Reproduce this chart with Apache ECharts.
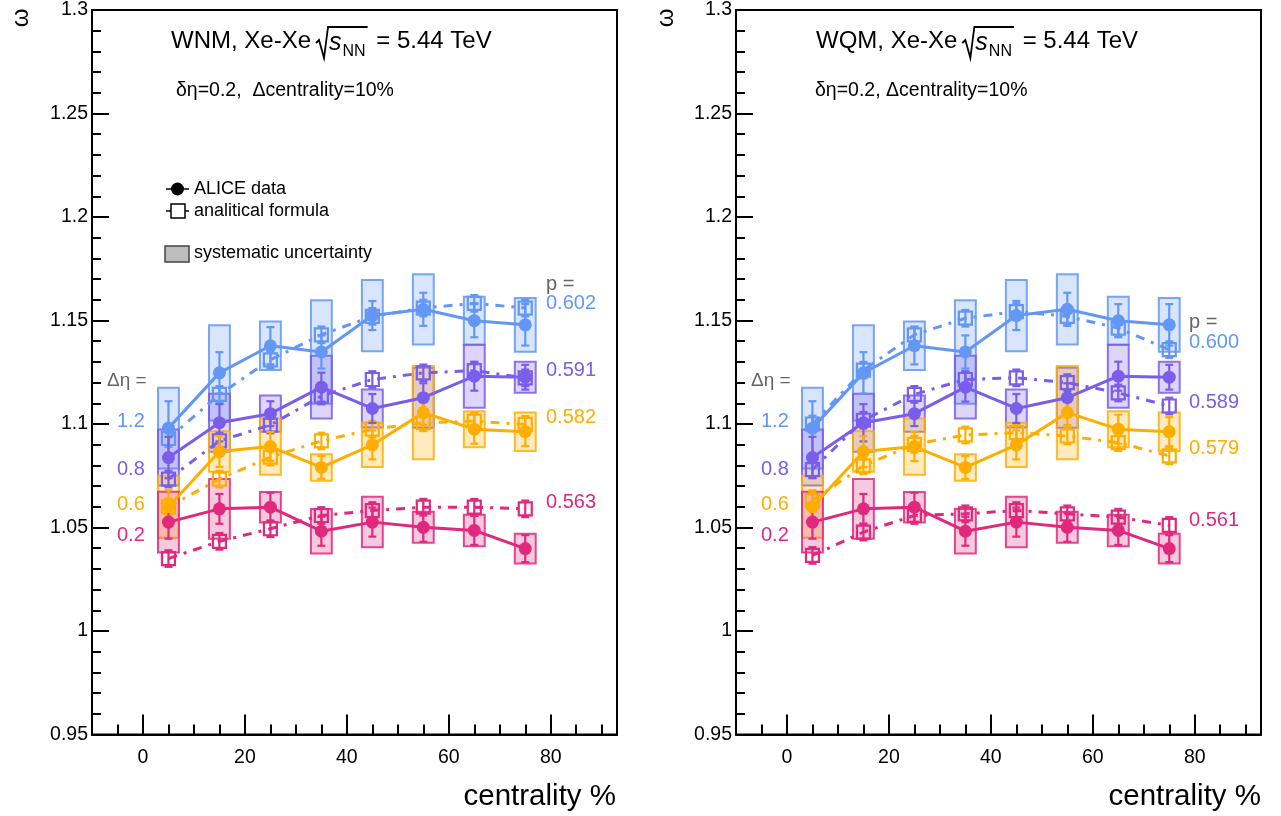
<!DOCTYPE html>
<html><head><meta charset="utf-8">
<script src="https://cdn.jsdelivr.net/npm/echarts@6/dist/echarts.min.js"></script>
<style>html,body{margin:0;padding:0;background:#fff}#c{width:1281px;height:816px}</style>
</head><body><div id="c"></div><script>
// ---------------- data ----------------
const centrality = [5, 15, 25, 35, 45, 55, 65, 75];
const xMajorTicks = [0, 20, 40, 60, 80];
const xMinorTicks = [-5, 5, 10, 15, 25, 30, 35, 45, 50, 55, 65, 70, 75, 85, 90];
const etaLabels = ['1.2', '0.8', '0.6', '0.2'];
const pWNM = ['0.602', '0.591', '0.582', '0.563'];
const pWQM = ['0.600', '0.589', '0.579', '0.561'];

// ALICE data (Δη = 1.2, 0.8, 0.6, 0.2)
const alice12 = [1.098, 1.1247, 1.1378, 1.1348, 1.1524, 1.1554, 1.1499, 1.1479];
const alice12Stat = [0.013, 0.010, 0.009, 0.008, 0.007, 0.008, 0.008, 0.010];
const alice12Sys = [0.0195, 0.023, 0.0117, 0.025, 0.0172, 0.017, 0.0116, 0.013];

const alice08 = [1.0838, 1.1006, 1.105, 1.1178, 1.1075, 1.1127, 1.1231, 1.1226];
const alice08Stat = [0.010, 0.009, 0.006, 0.007, 0.007, 0.007, 0.007, 0.006];
const alice08Sys = [0.0135, 0.014, 0.0088, 0.0152, 0.0092, 0.0145, 0.0152, 0.0075];

const alice06 = [1.060, 1.0867, 1.0891, 1.079, 1.0899, 1.1055, 1.0975, 1.0963];
const alice06Stat = [0.008, 0.0075, 0.007, 0.0055, 0.007, 0.006, 0.007, 0.007];
const alice06Sys = [0.015, 0.0098, 0.0136, 0.0064, 0.0107, 0.0225, 0.0087, 0.0093];

const alice02 = [1.0526, 1.059, 1.0598, 1.0482, 1.0526, 1.0501, 1.0486, 1.0398];
const alice02Stat = [0.008, 0.0072, 0.007, 0.007, 0.007, 0.007, 0.007, 0.0065];
const alice02Sys = [0.0147, 0.0144, 0.0074, 0.0107, 0.0122, 0.0075, 0.0076, 0.0072];

// analytical formula, WNM
const wnm12 = [1.093, 1.1143, 1.131, 1.1431, 1.152, 1.156, 1.1583, 1.156];
const wnm08 = [1.0734, 1.0918, 1.0995, 1.1135, 1.1215, 1.1247, 1.1258, 1.1223];
const wnm06 = [1.060, 1.0734, 1.084, 1.0918, 1.0975, 1.1006, 1.1014, 1.0998];
const wnm02 = [1.035, 1.0433, 1.0494, 1.0558, 1.0582, 1.0598, 1.0598, 1.059];

// analytical formula, WQM
const wqm12 = [1.100, 1.126, 1.1431, 1.1511, 1.1543, 1.152, 1.1463, 1.1359];
const wqm08 = [1.078, 1.1018, 1.1143, 1.1215, 1.1223, 1.120, 1.115, 1.1087];
const wqm06 = [1.063, 1.0798, 1.0902, 1.0947, 1.0958, 1.0942, 1.091, 1.0846];
const wqm02 = [1.0365, 1.0478, 1.0558, 1.0566, 1.0582, 1.0566, 1.055, 1.051];

// analytical formula uncertainty
const formulaErr = [0.004, 0.004, 0.004, 0.004, 0.004, 0.004, 0.004, 0.004];

// ---------------- style ----------------
const COLORS = ['#6397F3', '#7A5DEB', '#FFAE00', '#E0287D'];
const FONT = "'Liberation Sans', Arial, Helvetica, sans-serif";
const BOX_HALF = 2.05;
const GRIDS = [{left: 92, top: 8, width: 525, height: 726.5}, {left: 736, top: 8, width: 525, height: 726.5}];

function rgba(hex, a) {
  const n = parseInt(hex.slice(1), 16);
  return `rgba(${(n >> 16) & 255},${(n >> 8) & 255},${n & 255},${a})`;
}
function pairs(vals, extra) {
  return centrality.map((c, i) => extra ? [c, vals[i], extra[i]] : [c, vals[i]]);
}
function boxSeries(xi, yi, vals, sys, color) {
  return {
    type: 'custom', xAxisIndex: xi, yAxisIndex: yi, z: 1, silent: true,
    encode: {x: 0, y: 1},
    data: pairs(vals, sys),
    renderItem: (params, api) => {
      const x = api.value(0), y = api.value(1), s = api.value(2);
      const p1 = api.coord([x - BOX_HALF, y + s]);
      const p2 = api.coord([x + BOX_HALF, y - s]);
      return {type: 'rect', shape: {x: p1[0], y: p1[1], width: p2[0] - p1[0], height: p2[1] - p1[1]},
        style: {fill: rgba(color, 0.25), stroke: rgba(color, 0.85), lineWidth: 2}};
    }
  };
}
function errSeries(xi, yi, vals, err, color, cap, z) {
  return {
    type: 'custom', xAxisIndex: xi, yAxisIndex: yi, z: z, silent: true,
    encode: {x: 0, y: 1},
    data: pairs(vals, err),
    renderItem: (params, api) => {
      const x = api.value(0), y = api.value(1), e = api.value(2);
      const t = api.coord([x, y + e]), b = api.coord([x, y - e]);
      const st = {stroke: color, lineWidth: 2.2};
      return {type: 'group', children: [
        {type: 'line', shape: {x1: t[0], y1: t[1], x2: b[0], y2: b[1]}, style: st},
        {type: 'line', shape: {x1: t[0] - cap, y1: t[1], x2: t[0] + cap, y2: t[1]}, style: st},
        {type: 'line', shape: {x1: b[0] - cap, y1: b[1], x2: b[0] + cap, y2: b[1]}, style: st}
      ]};
    }
  };
}
function aliceLine(xi, yi, vals, color) {
  return {type: 'line', xAxisIndex: xi, yAxisIndex: yi, z: 6, data: pairs(vals),
    symbol: 'circle', symbolSize: 13, showSymbol: true, animation: false,
    lineStyle: {color: color, width: 3}, itemStyle: {color: color}};
}
function formulaLine(xi, yi, vals, color) {
  return {type: 'line', xAxisIndex: xi, yAxisIndex: yi, z: 4, data: pairs(vals),
    symbol: 'rect', symbolSize: 13, showSymbol: true, animation: false,
    lineStyle: {color: color, width: 3, type: [9, 7, 3, 7]},
    itemStyle: {color: 'rgba(0,0,0,0)', borderColor: color, borderWidth: 2.2}};
}

const alice = [[alice12, alice12Stat, alice12Sys], [alice08, alice08Stat, alice08Sys],
               [alice06, alice06Stat, alice06Sys], [alice02, alice02Stat, alice02Sys]];
const formulas = [[wnm12, wnm08, wnm06, wnm02], [wqm12, wqm08, wqm06, wqm02]];

const series = [];
[0, 1].forEach(p => {
  const xi = p * 2, yi = p;
  alice.forEach((a, k) => series.push(boxSeries(xi, yi, a[0], a[2], COLORS[k])));
  formulas[p].forEach((f, k) => {
    series.push(errSeries(xi, yi, f, formulaErr, COLORS[k], 4, 3));
    series.push(formulaLine(xi, yi, f, COLORS[k]));
  });
  alice.forEach((a, k) => {
    series.push(errSeries(xi, yi, a[0], a[1], COLORS[k], 4, 5));
    series.push(aliceLine(xi, yi, a[0], COLORS[k]));
  });
});

// ---------------- axes ----------------
const xAxes = [], yAxes = [];
[0, 1].forEach(p => {
  xAxes.push({type: 'value', gridIndex: p, min: -10, max: 93, position: 'bottom',
    axisLine: {show: true, onZero: false, lineStyle: {color: '#000', width: 2}},
    axisTick: {show: true, inside: true, length: 20, customValues: xMajorTicks, lineStyle: {color: '#000', width: 2}},
    axisLabel: {show: true, customValues: xMajorTicks, margin: 13, color: '#000', fontSize: 19.5, fontFamily: FONT},
    splitLine: {show: false}});
  xAxes.push({type: 'value', gridIndex: p, min: -10, max: 93, position: 'bottom',
    axisLine: {show: false},
    axisTick: {show: true, inside: true, length: 10, customValues: xMinorTicks, lineStyle: {color: '#000', width: 2}},
    axisLabel: {show: false}, splitLine: {show: false}});
  yAxes.push({type: 'value', gridIndex: p, min: 0.95, max: 1.3, interval: 0.05,
    axisLine: {show: true, onZero: false, lineStyle: {color: '#000', width: 2}},
    axisTick: {show: true, inside: true, length: 17, lineStyle: {color: '#000', width: 2}},
    minorTick: {show: true, splitNumber: 5, length: 9, lineStyle: {color: '#000', width: 2}},
    axisLabel: {margin: 4, color: '#000', fontSize: 19.5, fontFamily: FONT},
    splitLine: {show: false}, minorSplitLine: {show: false}});
});

// ---------------- annotations ----------------
const mc = document.createElement('canvas').getContext('2d');
function tw(text, font) { mc.font = font; return mc.measureText(text).width; }
function txt(x, y, text, size, color, align) {
  return {type: 'text', z: 50, style: {x: x, y: y, text: text, fill: color || '#000',
    font: `${size}px ${FONT}`, align: align || 'left', verticalAlign: 'middle'}};
}
const graphics = [];
function title(x0, name, yMid) {
  const f1 = `24px ${FONT}`;
  const t1 = name + ', Xe-Xe';
  graphics.push(txt(x0, yMid, t1, 24));
  let x = x0 + tw(t1, f1) + 5;
  const fs = `italic 25px ${FONT}`, fn = `16px ${FONT}`;
  const sx = x + 13;
  const ws = tw('s', fs), wn = tw('NN', fn);
  const endX = sx + ws + wn + 3;
  graphics.push({type: 'polyline', z: 50, shape: {points: [[x, yMid + 2], [x + 3, yMid - 1], [x + 8, yMid + 17], [x + 12, yMid - 14], [endX, yMid - 14]]},
    style: {stroke: '#000', lineWidth: 1.8, fill: null}});
  graphics.push({type: 'text', z: 50, style: {x: sx, y: yMid + 2, text: 's', font: fs, fill: '#000', verticalAlign: 'middle'}});
  graphics.push({type: 'text', z: 50, style: {x: sx + ws + 1, y: yMid + 11, text: 'NN', font: fn, fill: '#000', verticalAlign: 'middle'}});
  graphics.push(txt(endX + 2, yMid, ' = 5.44 TeV', 24));
}
title(171, 'WNM', 41);
title(816, 'WQM', 41);
graphics.push(txt(176, 91, 'δη=0.2,  Δcentrality=10%', 19.5));
graphics.push(txt(815, 91, 'δη=0.2, Δcentrality=10%', 19.5));

// legend (left panel)
graphics.push({type: 'line', z: 50, shape: {x1: 166, y1: 189, x2: 189, y2: 189}, style: {stroke: '#000', lineWidth: 1.5}});
graphics.push({type: 'circle', z: 51, shape: {cx: 177.5, cy: 189, r: 6.5}, style: {fill: '#000'}});
graphics.push(txt(194, 189, 'ALICE data', 18));
graphics.push({type: 'line', z: 50, shape: {x1: 166, y1: 211, x2: 189, y2: 211}, style: {stroke: '#000', lineWidth: 1.5}});
graphics.push({type: 'rect', z: 51, shape: {x: 171, y: 204, width: 14, height: 14}, style: {fill: '#fff', stroke: '#000', lineWidth: 1.5}});
graphics.push(txt(194, 211, 'analitical formula', 18));
graphics.push({type: 'rect', z: 51, shape: {x: 165, y: 246, width: 24, height: 16}, style: {fill: '#BDBDBD', stroke: '#444', lineWidth: 1.5}});
graphics.push(txt(194, 253, 'systematic uncertainty', 18));

// Δη and p labels
const etaY = [421.5, 469.5, 504.5, 535];
[[107, 117], [751, 761]].forEach(([xe, xv]) => {
  graphics.push(txt(xe, 381, 'Δη =', 19, '#666'));
  etaLabels.forEach((l, k) => graphics.push(txt(xv, etaY[k], l, 20, COLORS[k])));
});
graphics.push(txt(546, 284, 'p =', 20, '#666'));
[303, 370.5, 417, 502].forEach((y, k) => graphics.push(txt(546, y, pWNM[k], 20, COLORS[k])));
graphics.push(txt(1189, 322, 'p =', 20, '#666'));
[342, 402, 448, 520].forEach((y, k) => graphics.push(txt(1189, y, pWQM[k], 20, COLORS[k])));

// axis titles
[21, 666].forEach(x => graphics.push({type: 'text', z: 50, x: x, y: 18, rotation: Math.PI / 2,
  style: {x: 0, y: 0, text: 'ω', fill: '#000', font: `24px ${FONT}`, align: 'center', verticalAlign: 'middle'}}));
graphics.push(txt(616, 797, 'centrality %', 29.5, '#000', 'right'));
graphics.push(txt(1261, 797, 'centrality %', 29.5, '#000', 'right'));

const chart = echarts.init(document.getElementById('c'), null, {renderer: 'canvas'});
chart.setOption({
  animation: false,
  backgroundColor: '#fff',
  grid: GRIDS.map(g => Object.assign({show: true, borderColor: '#000', borderWidth: 2, backgroundColor: 'transparent', containLabel: false}, g)),
  xAxis: xAxes,
  yAxis: yAxes,
  series: series,
  graphic: graphics
});
</script></body></html>
